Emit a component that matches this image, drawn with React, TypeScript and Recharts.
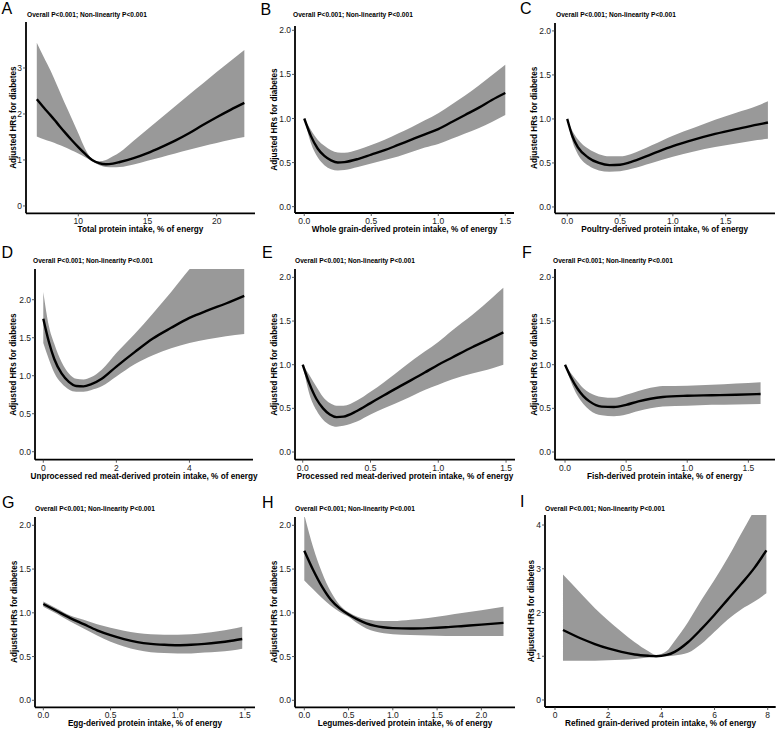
import React from "react";
import { ComposedChart, Area, Line, XAxis, YAxis } from "recharts";

const FONT = '"Liberation Sans", Arial, Helvetica, sans-serif';

// ---- Panel A: Total protein ----
const aX = [7, 7.5, 8, 8.5, 9, 9.5, 10, 10.5, 11, 11.5, 12, 12.5, 13, 14, 15, 16, 17, 18, 19, 20, 21, 22];
const aFit = [2.32, 2.14, 1.97, 1.79, 1.61, 1.44, 1.28, 1.13, 1.0, 0.93, 0.905, 0.92, 0.955, 1.04, 1.15, 1.28, 1.42, 1.58, 1.76, 1.93, 2.09, 2.24];
const aLow = [1.51, 1.45, 1.4, 1.34, 1.28, 1.21, 1.14, 1.06, 0.97, 0.89, 0.845, 0.84, 0.845, 0.9, 0.98, 1.06, 1.14, 1.22, 1.3, 1.37, 1.44, 1.5];
const aHigh = [3.55, 3.24, 2.94, 2.6, 2.25, 1.92, 1.58, 1.24, 1.02, 0.97, 1.0, 1.08, 1.17, 1.42, 1.67, 1.92, 2.17, 2.42, 2.66, 2.91, 3.15, 3.39];

// ---- Panel B: Whole grain ----
const bX = [0, 0.05, 0.1, 0.15, 0.2, 0.25, 0.3, 0.4, 0.5, 0.6, 0.7, 0.8, 0.9, 1.0, 1.1, 1.2, 1.3, 1.4, 1.5];
const bFit = [1.0, 0.8, 0.66, 0.575, 0.525, 0.5, 0.505, 0.54, 0.59, 0.64, 0.7, 0.76, 0.82, 0.88, 0.96, 1.04, 1.12, 1.21, 1.29];
const bLow = [1.0, 0.72, 0.56, 0.47, 0.425, 0.41, 0.415, 0.45, 0.49, 0.53, 0.57, 0.62, 0.67, 0.71, 0.77, 0.83, 0.89, 0.96, 1.04];
const bHigh = [1.0, 0.87, 0.76, 0.69, 0.64, 0.615, 0.61, 0.645, 0.7, 0.76, 0.83, 0.9, 0.98, 1.06, 1.16, 1.26, 1.37, 1.49, 1.61];

// ---- Panel C: Poultry ----
const cX = [0, 0.05, 0.1, 0.2, 0.3, 0.4, 0.5, 0.6, 0.8, 1.0, 1.2, 1.4, 1.6, 1.8, 1.9];
const cFit = [1.0, 0.8, 0.68, 0.56, 0.5, 0.475, 0.48, 0.51, 0.6, 0.69, 0.765, 0.83, 0.885, 0.935, 0.96];
const cLow = [1.0, 0.74, 0.6, 0.47, 0.415, 0.4, 0.405, 0.43, 0.5, 0.57, 0.63, 0.68, 0.72, 0.76, 0.775];
const cHigh = [1.0, 0.86, 0.77, 0.66, 0.6, 0.575, 0.575, 0.6, 0.7, 0.81, 0.9, 0.99, 1.07, 1.15, 1.2];

// ---- Panel D: Unprocessed red meat ----
const dX = [0, 0.15, 0.3, 0.5, 0.7, 0.9, 1.1, 1.3, 1.6, 2.0, 2.5, 3.0, 3.5, 4.0, 4.5, 5.0, 5.5];
const dFit = [1.75, 1.45, 1.22, 1.03, 0.92, 0.865, 0.86, 0.885, 0.96, 1.12, 1.31, 1.49, 1.63, 1.76, 1.86, 1.95, 2.05];
const dLow = [1.43, 1.22, 1.04, 0.9, 0.82, 0.79, 0.79, 0.81, 0.86, 0.99, 1.15, 1.27, 1.36, 1.43, 1.48, 1.52, 1.55];
const dHigh = [2.1, 1.66, 1.42, 1.18, 1.03, 0.96, 0.95, 0.98, 1.08, 1.3, 1.55, 1.82, 2.1, 2.4, 2.65, 2.85, 3.0];

// ---- Panel E: Processed red meat ----
const eX = [0, 0.05, 0.1, 0.15, 0.2, 0.25, 0.3, 0.4, 0.5, 0.6, 0.75, 0.9, 1.0, 1.1, 1.25, 1.4, 1.48];
const eFit = [1.0, 0.78, 0.61, 0.5, 0.43, 0.4, 0.405, 0.47, 0.56, 0.65, 0.78, 0.91, 1.0, 1.08, 1.2, 1.31, 1.37];
const eLow = [1.0, 0.66, 0.48, 0.37, 0.31, 0.29, 0.3, 0.35, 0.43, 0.5, 0.6, 0.71, 0.77, 0.83, 0.9, 0.96, 1.0];
const eHigh = [1.0, 0.88, 0.75, 0.63, 0.56, 0.53, 0.53, 0.59, 0.69, 0.8, 0.98, 1.15, 1.26, 1.39, 1.57, 1.77, 1.88];

// ---- Panel F: Fish ----
const fX = [0, 0.05, 0.1, 0.15, 0.2, 0.3, 0.4, 0.5, 0.6, 0.7, 0.8, 1.0, 1.2, 1.4, 1.6];
const fFit = [1.0, 0.85, 0.73, 0.64, 0.58, 0.52, 0.515, 0.54, 0.58, 0.61, 0.63, 0.645, 0.65, 0.655, 0.665];
const fLow = [1.0, 0.8, 0.65, 0.55, 0.48, 0.42, 0.41, 0.43, 0.47, 0.5, 0.52, 0.53, 0.54, 0.545, 0.55];
const fHigh = [1.0, 0.9, 0.81, 0.73, 0.68, 0.63, 0.62, 0.655, 0.7, 0.735, 0.755, 0.76, 0.77, 0.785, 0.8];

// ---- Panel G: Egg ----
const gX = [0, 0.1, 0.2, 0.3, 0.4, 0.5, 0.6, 0.7, 0.8, 0.9, 1.0, 1.1, 1.2, 1.3, 1.4, 1.48];
const gFit = [1.1, 1.02, 0.94, 0.87, 0.8, 0.745, 0.7, 0.665, 0.645, 0.635, 0.63, 0.635, 0.645, 0.66, 0.68, 0.7];
const gLow = [1.07, 0.99, 0.9, 0.82, 0.74, 0.67, 0.615, 0.575, 0.55, 0.54, 0.535, 0.535, 0.545, 0.555, 0.57, 0.59];
const gHigh = [1.13, 1.05, 0.97, 0.92, 0.87, 0.83, 0.795, 0.77, 0.755, 0.75, 0.75, 0.755, 0.77, 0.79, 0.815, 0.84];

// ---- Panel H: Legumes ----
const hX = [0, 0.1, 0.2, 0.3, 0.4, 0.5, 0.6, 0.7, 0.8, 1.0, 1.2, 1.4, 1.6, 1.8, 2.0, 2.25];
const hFit = [1.71, 1.49, 1.3, 1.15, 1.05, 0.98, 0.925, 0.88, 0.85, 0.825, 0.82, 0.825, 0.835, 0.85, 0.865, 0.885];
const hLow = [1.37, 1.27, 1.17, 1.08, 1.01, 0.955, 0.88, 0.82, 0.785, 0.755, 0.745, 0.74, 0.735, 0.735, 0.735, 0.735];
const hHigh = [2.12, 1.75, 1.46, 1.24, 1.09, 1.005, 0.955, 0.925, 0.91, 0.905, 0.92, 0.94, 0.97, 1.0, 1.03, 1.07];

// ---- Panel I: Refined grain ----
const iX = [0.3, 1.0, 1.5, 2.0, 2.5, 3.0, 3.5, 3.8, 4.2, 4.5, 5.0, 5.5, 6.0, 6.5, 7.0, 7.5, 7.95];
const iFit = [1.6, 1.4, 1.28, 1.18, 1.1, 1.04, 1.01, 1.0, 1.03, 1.1, 1.32, 1.62, 1.95, 2.3, 2.65, 3.02, 3.42];
const iLow = [0.9, 0.9, 0.9, 0.91, 0.92, 0.94, 0.97, 0.99, 1.0, 1.02, 1.08, 1.28, 1.56, 1.84, 2.07, 2.25, 2.44];
const iHigh = [2.87, 2.42, 2.1, 1.82, 1.56, 1.32, 1.12, 1.03, 1.12, 1.35, 1.78, 2.28, 2.75, 3.25, 3.8, 4.35, 4.9];

// ---- tick labels ----
const ticksA_x = [10, 15, 20];
const ticksA_y = [0, 1, 2, 3];
const ticks0to2 = [0, 0.5, 1, 1.5, 2];
const ticks0to15 = [0, 0.5, 1, 1.5];
const ticksC_x = [0, 0.5, 1, 1.5];
const ticksD_x = [0, 2, 4];
const ticksH_x = [0, 0.5, 1, 1.5, 2];
const ticksI_x = [0, 2, 4, 6, 8];
const ticksI_y = [0, 1, 2, 3, 4];

const letters = ["A", "B", "C", "D", "E", "F", "G", "H", "I"];
const xTitles = [
  "Total protein intake, % of energy",
  "Whole grain-derived protein intake, % of energy",
  "Poultry-derived protein intake, % of energy",
  "Unprocessed red meat-derived protein intake, % of energy",
  "Processed red meat-derived protein intake, % of energy",
  "Fish-derived protein intake, % of energy",
  "Egg-derived protein intake, % of energy",
  "Legumes-derived protein intake, % of energy",
  "Refined grain-derived protein intake, % of energy",
];
const yTitle = "Adjusted HRs for diabetes";
const pText = "Overall P<0.001; Non-linearity P<0.001";

type Rect = { left: number; top: number; right: number; bottom: number };
type Cfg = {
  xs: number[]; fit: number[]; low: number[]; high: number[];
  rect: Rect; xDomain: [number, number]; yDomain: [number, number];
  xTicks: number[]; yTicks: number[]; xDec: number; yDec: number;
  letterPos: [number, number]; pPos: [number, number]; yTitleX: number;
};

function build(xs: number[], fit: number[], low: number[], high: number[]) {
  return xs.map((x, i) => ({ x, fit: fit[i], band: [low[i], high[i]] }));
}

const panels: Cfg[] = [
  { xs: aX, fit: aFit, low: aLow, high: aHigh,
    rect: { left: 26, top: 22, right: 255, bottom: 213.3 }, xDomain: [6.22, 22.77], yDomain: [-0.16, 4.0],
    xTicks: ticksA_x, yTicks: ticksA_y, xDec: 0, yDec: 0, letterPos: [1.5, 13.5], pPos: [27, 16.5], yTitleX: 14 },
  { xs: bX, fit: bFit, low: bLow, high: bHigh,
    rect: { left: 295, top: 26, right: 514, bottom: 213 }, xDomain: [-0.069, 1.565], yDomain: [-0.072, 2.049],
    xTicks: ticks0to15, yTicks: ticks0to2, xDec: 1, yDec: 1, letterPos: [260.5, 14.5], pPos: [293, 16.5], yTitleX: 274.5 },
  { xs: cX, fit: cFit, low: cLow, high: cHigh,
    rect: { left: 554.7, top: 22.7, right: 774.7, bottom: 213 }, xDomain: [-0.116, 1.967], yDomain: [-0.072, 2.09],
    xTicks: ticksC_x, yTicks: ticks0to2, xDec: 1, yDec: 1, letterPos: [520, 14], pPos: [556, 16.5], yTitleX: 534.5 },
  { xs: dX, fit: dFit, low: dLow, high: dHigh,
    rect: { left: 35, top: 269.3, right: 253, bottom: 460 }, xDomain: [-0.227, 5.74], yDomain: [-0.105, 2.404],
    xTicks: ticksD_x, yTicks: ticks0to2, xDec: 0, yDec: 1, letterPos: [1.5, 257.5], pPos: [33, 262.5], yTitleX: 13.5 },
  { xs: eX, fit: eFit, low: eLow, high: eHigh,
    rect: { left: 295, top: 269.3, right: 515, bottom: 460 }, xDomain: [-0.057, 1.566], yDomain: [-0.088, 2.096],
    xTicks: ticks0to15, yTicks: ticks0to2, xDec: 1, yDec: 1, letterPos: [262, 258], pPos: [295, 262.5], yTitleX: 274.5 },
  { xs: fX, fit: fFit, low: fLow, high: fHigh,
    rect: { left: 554.7, top: 269.3, right: 774.7, bottom: 460 }, xDomain: [-0.082, 1.718], yDomain: [-0.088, 2.096],
    xTicks: ticks0to15, yTicks: ticks0to2, xDec: 1, yDec: 1, letterPos: [522, 258], pPos: [553, 262.5], yTitleX: 535 },
  { xs: gX, fit: gFit, low: gLow, high: gHigh,
    rect: { left: 35, top: 516.7, right: 255, bottom: 707 }, xDomain: [-0.062, 1.575], yDomain: [-0.08, 2.095],
    xTicks: ticks0to15, yTicks: ticks0to2, xDec: 1, yDec: 1, letterPos: [2, 507.5], pPos: [35, 510.5], yTitleX: 14.5 },
  { xs: hX, fit: hFit, low: hLow, high: hHigh,
    rect: { left: 295, top: 516.7, right: 515, bottom: 707 }, xDomain: [-0.105, 2.38], yDomain: [-0.08, 2.095],
    xTicks: ticksH_x, yTicks: ticks0to2, xDec: 1, yDec: 1, letterPos: [262, 507.5], pPos: [295, 510.5], yTitleX: 274.5 },
  { xs: iX, fit: iFit, low: iLow, high: iHigh,
    rect: { left: 545.3, top: 515, right: 776, bottom: 707 }, xDomain: [-0.376, 8.3], yDomain: [-0.16, 4.229],
    xTicks: ticksI_x, yTicks: ticksI_y, xDec: 0, yDec: 0, letterPos: [520, 507], pPos: [545, 510.5], yTitleX: 531.5 },
];

const YW = 40;
const XH = 30;
const MT = 5;
const MR = 3;

function Panel({ cfg }: { cfg: Cfg }) {
  const { rect } = cfg;
  const w = rect.right - rect.left + YW + MR;
  const h = rect.bottom - rect.top + MT + XH;
  const data = build(cfg.xs, cfg.fit, cfg.low, cfg.high);
  const tickStyle = { fontSize: 8.5, fill: "#1a1a1a", fontFamily: FONT };
  return (
    <div style={{ position: "absolute", left: rect.left - YW, top: rect.top - MT }}>
      <ComposedChart width={w} height={h} data={data} margin={{ top: MT, right: MR, left: 0, bottom: 0 }}>
        <XAxis
          type="number" dataKey="x" domain={cfg.xDomain} ticks={cfg.xTicks} allowDataOverflow
          height={XH} interval={0}
          axisLine={{ stroke: "#000", strokeWidth: 1.8 }} tickLine={{ stroke: "#333", strokeWidth: 0.8 }}
          tickSize={3} tickMargin={2} tick={tickStyle}
          tickFormatter={(v: number) => v.toFixed(cfg.xDec)}
        />
        <YAxis
          type="number" domain={cfg.yDomain} ticks={cfg.yTicks} allowDataOverflow
          width={YW} interval={0}
          axisLine={{ stroke: "#000", strokeWidth: 1.8 }} tickLine={{ stroke: "#333", strokeWidth: 0.8 }}
          tickSize={3} tickMargin={1} tick={tickStyle}
          tickFormatter={(v: number) => v.toFixed(cfg.yDec)}
        />
        <Area dataKey="band" type="monotone" fill="#999999" fillOpacity={1} stroke="none" isAnimationActive={false} />
        <Line dataKey="fit" type="monotone" stroke="#000" strokeWidth={2.4} dot={false} isAnimationActive={false} />
      </ComposedChart>
    </div>
  );
}

export default function App() {
  return (
    <div style={{ position: "absolute", left: 0, top: 0, width: 778, height: 730, background: "#fff", overflow: "hidden" }}>
      {panels.map((p, i) => (
        <Panel key={i} cfg={p} />
      ))}
      <svg width={778} height={730} style={{ position: "absolute", left: 0, top: 0, pointerEvents: "none" }}>
        {panels.map((p, i) => {
          const cx = (p.rect.left + p.rect.right) / 2;
          const cy = (p.rect.top + p.rect.bottom) / 2;
          return (
            <g key={i} fontFamily={FONT}>
              <text x={p.letterPos[0]} y={p.letterPos[1]} fontSize={16} fill="#000">{letters[i]}</text>
              <text x={p.pPos[0]} y={p.pPos[1]} fontSize={6.6} fontWeight="bold" fill="#000">{pText}</text>
              <text x={cx} y={p.rect.bottom + 19} fontSize={8.2} fontWeight="bold" fill="#000" textAnchor="middle">{xTitles[i]}</text>
              <text
                x={p.yTitleX} y={cy} fontSize={8.2} fontWeight="bold" fill="#000" textAnchor="middle"
                dominantBaseline="central" transform={`rotate(-90 ${p.yTitleX} ${cy})`}
              >{yTitle}</text>
            </g>
          );
        })}
      </svg>
    </div>
  );
}
